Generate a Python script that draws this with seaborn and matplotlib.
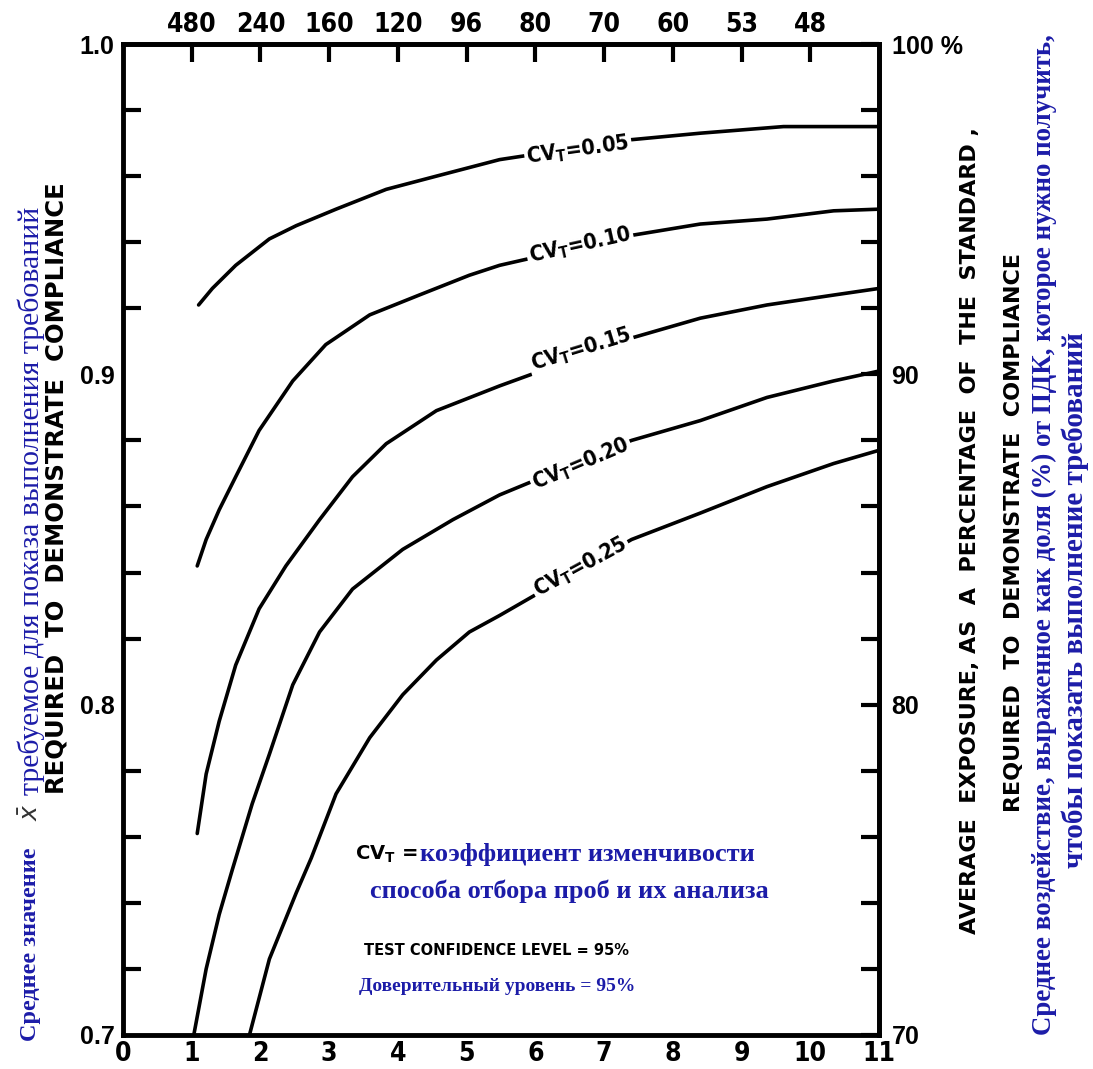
import matplotlib
matplotlib.use("Agg")
import matplotlib.pyplot as plt
import pandas as pd
import seaborn as sns

# curves: number of samples n -> required mean x/STD
cv05_n = [1.10, 1.30, 1.64, 2.13, 2.52, 3.10, 3.83, 4.56, 5.48, 7.38, 8.40, 9.61, 11.0]
cv05_y = [0.921, 0.926, 0.933, 0.941, 0.945, 0.950, 0.956, 0.960, 0.965, 0.971, 0.973, 0.975, 0.975]

cv10_n = [1.08, 1.21, 1.40, 1.64, 1.98, 2.47, 2.95, 3.59, 4.31, 5.04, 5.48, 7.38, 8.40, 9.37, 10.34, 11.0]
cv10_y = [0.842, 0.850, 0.859, 0.869, 0.883, 0.898, 0.909, 0.918, 0.924, 0.930, 0.933, 0.942, 0.9455, 0.947, 0.9495, 0.950]

cv15_n = [1.08, 1.21, 1.40, 1.64, 1.98, 2.37, 2.86, 3.34, 3.83, 4.56, 5.48, 7.40, 8.40, 9.37, 10.34, 11.0]
cv15_y = [0.761, 0.779, 0.795, 0.812, 0.829, 0.842, 0.856, 0.869, 0.879, 0.889, 0.8965, 0.911, 0.917, 0.921, 0.924, 0.926]

cv20_n = [1.03, 1.21, 1.40, 1.59, 1.88, 2.13, 2.47, 2.86, 3.34, 4.07, 4.80, 5.48, 7.40, 8.40, 9.37, 10.34, 11.0]
cv20_y = [0.700, 0.720, 0.7365, 0.750, 0.770, 0.785, 0.806, 0.822, 0.835, 0.847, 0.856, 0.8635, 0.880, 0.886, 0.893, 0.898, 0.901]

cv25_n = [1.84, 2.13, 2.52, 2.74, 3.10, 3.59, 4.07, 4.56, 5.04, 5.48, 7.40, 8.40, 9.37, 10.34, 11.0]
cv25_y = [0.700, 0.723, 0.743, 0.7536, 0.773, 0.790, 0.803, 0.8135, 0.822, 0.827, 0.850, 0.858, 0.866, 0.873, 0.877]

cv_names = ["0.05", "0.10", "0.15", "0.20", "0.25"]

bottom_ticks = [0, 1, 2, 3, 4, 5, 6, 7, 8, 9, 10, 11]
top_ticks = [1, 2, 3, 4, 5, 6, 7, 8, 9, 10]
top_labels = ["480", "240", "160", "120", "96", "80", "70", "60", "53", "48"]
y_major = [0.7, 0.8, 0.9, 1.0]
left_labels = ["0.7", "0.8", "0.9", "1.0"]
right_labels = ["70", "80", "90", "100 %"]
y_minor = [0.72, 0.74, 0.76, 0.78, 0.82, 0.84, 0.86, 0.88, 0.92, 0.94, 0.96, 0.98]

curves = [(cv05_n, cv05_y), (cv10_n, cv10_y), (cv15_n, cv15_y), (cv20_n, cv20_y), (cv25_n, cv25_y)]
df = pd.concat([pd.DataFrame({"n": n, "ratio": y, "cv": name})
                for (n, y), name in zip(curves, cv_names)], ignore_index=True)

sns.set_theme(style="white")
plt.rcParams["font.family"] = ["DejaVu Sans"]
plt.rcParams["text.color"] = "black"
plt.rcParams["xtick.color"] = "black"
plt.rcParams["ytick.color"] = "black"

W, H = 1093, 1069
fig = plt.figure(figsize=(W / 100, H / 100), dpi=100)
ax = fig.add_axes([123 / W, 1 - 1035 / H, 756 / W, 991 / H])

sns.lineplot(data=df, x="n", y="ratio", units="cv", estimator=None, sort=False,
             color="black", linewidth=2.6, legend=False, ax=ax)

ax.set_xlim(0, 11)
ax.set_ylim(0.7, 1.0)
ax.set_xlabel("")
ax.set_ylabel("")
for sp in ax.spines.values():
    sp.set_visible(True)
    sp.set_color("black")
    sp.set_linewidth(3.5)

sans = ["DejaVu Sans"]
boldsans = ["Liberation Sans", "DejaVu Sans"]
ax.set_xticks(bottom_ticks)
ax.set_xticklabels([str(t) for t in bottom_ticks], fontsize=19, fontweight="bold",
                   family=sans, fontstretch="condensed")
ax.set_yticks(y_major)
ax.set_yticklabels(left_labels, fontsize=18, fontweight="bold", family=boldsans)
ax.set_yticks(y_minor, minor=True)
ax.tick_params(axis="both", which="both", direction="in", length=13, width=3, color="black")
ax.tick_params(axis="x", pad=4)
ax.tick_params(axis="y", pad=6)
ax.tick_params(axis="y", which="minor", left=True)

top = ax.secondary_xaxis("top")
top.set_xticks(top_ticks)
top.set_xticklabels(top_labels, fontsize=19, fontweight="bold", family=sans, fontstretch="condensed")
top.tick_params(direction="in", length=13, width=3, color="black", pad=4)
top.spines["top"].set_linewidth(3.5)

right = ax.secondary_yaxis("right")
right.set_yticks(y_major)
right.set_yticklabels(right_labels, fontsize=18, fontweight="bold", family=boldsans)
right.set_yticks(y_minor, minor=True)
right.tick_params(which="both", direction="in", length=13, width=3, color="black", pad=9)
right.spines["right"].set_linewidth(3.5)

# curve labels sitting on the lines
label_spots = [(6.62, 0.968, 8), (6.65, 0.939, 12.5), (6.66, 0.9075, 17), (6.66, 0.873, 23), (6.66, 0.8415, 28.5)]
for name, (lx, ly, rot) in zip(cv_names, label_spots):
    ax.text(lx, ly, r"CV$_\mathregular{T}$=" + name, fontsize=15.5, fontweight="bold", family=sans,
            fontstretch="condensed", rotation=rot, rotation_mode="anchor",
            ha="center", va="center",
            bbox=dict(boxstyle="square,pad=0.1", fc="white", ec="none"), zorder=5)

blue = "#1c1ca8"
serif = ["Liberation Serif", "DejaVu Serif"]

ax.text(3.37, 0.7546, r"CV$_\mathregular{T}$ =", fontsize=14, fontweight="bold",
        family=sans, ha="left", va="center")
ax.text(4.32, 0.7546, "коэффициент изменчивости", fontsize=19, fontweight="bold",
        family=serif, color=blue, ha="left", va="center")
ax.text(6.50, 0.7436, "способа отбора проб и их анализа", fontsize=19, fontweight="bold",
        family=serif, color=blue, ha="center", va="center")
ax.text(3.51, 0.7256, "TEST CONFIDENCE LEVEL = 95%", fontsize=10.5, fontweight="bold",
        family=sans, ha="left", va="center")
ax.text(5.45, 0.7146, "Доверительный уровень = 95%", fontsize=14, fontweight="bold",
        family=serif, color=blue, ha="center", va="center")

# axis titles (figure pixel positions)
def ftext(px, py, s, **kw):
    fig.text(px / W, 1 - py / H, s, rotation=90, **kw)

ftext(57, 488, "REQUIRED  TO  DEMONSTRATE  COMPLIANCE", fontsize=17.5, fontweight="bold",
      family=sans, ha="center", va="center")
ftext(31, 1041, "Среднее значение", fontsize=17.5, fontweight="bold", family=serif,
      color=blue, ha="center", va="bottom")
ftext(31, 812, r"$\bar{x}$", fontsize=18, color="#333333", ha="center", va="center")
ftext(31, 795, "требуемое для показа выполнения требований", fontsize=21.5, family=serif,
      color=blue, ha="center", va="bottom")

ftext(970, 531, "AVERAGE  EXPOSURE, AS  A  PERCENTAGE  OF  THE  STANDARD ,", fontsize=16,
      fontweight="bold", family=sans, ha="center", va="center")
ftext(1014, 532, "REQUIRED  TO  DEMONSTRATE  COMPLIANCE", fontsize=16, fontweight="bold",
      family=sans, ha="center", va="center")
ftext(1044, 34, "Среднее воздействие, выраженное как доля (%) от ПДК, которое нужно получить,",
      fontsize=19.4, fontweight="bold", family=serif, color=blue, ha="center", va="top")
ftext(1075, 600, "чтобы показать выполнение требований", fontsize=21, fontweight="bold",
      family=serif, color=blue, ha="center", va="center")

fig.savefig("out.png", dpi=100)
